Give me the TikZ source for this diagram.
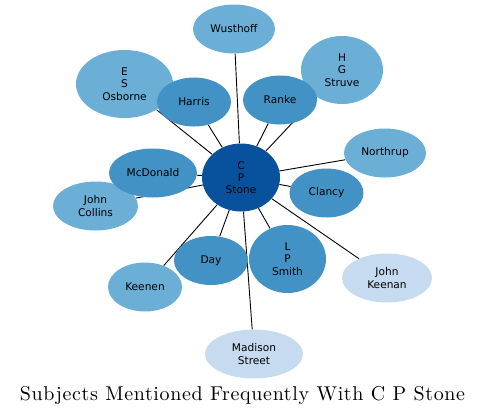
\documentclass[tikz,border=0pt]{standalone}
\usepackage{fontspec}
\setsansfont{DejaVu Sans}
\newfontfamily\titlefont[LetterSpace=3.3]{lmroman10-regular.otf}
\usetikzlibrary{backgrounds,shapes.geometric}
\definecolor{hub}{HTML}{08519C}
\definecolor{midblue}{HTML}{4292C6}
\definecolor{lightblue}{HTML}{6BAED6}
\definecolor{paleblue}{HTML}{C6DBEF}
\tikzset{subj/.style={ellipse, fill=#1, inner sep=0pt, minimum height=49pt, align=center,
    font=\sffamily\fontsize{10.6}{12.3}\selectfont},
  link/.style={draw=black, line width=0.9pt}}

\begin{document}
\begin{tikzpicture}[x=1pt, y=-1pt]
  \useasboundingbox (0,0) rectangle (485,415);
  \node[subj=lightblue, minimum width=82pt] (wust) at (234,29) {Wusthoff};
  \node[subj=lightblue, minimum width=97pt, minimum height=68pt] (osb) at (124.5,84) {E\\S\\Osborne};
  \node[subj=midblue, minimum width=74pt] (harris) at (194,102) {Harris};
  \node[subj=lightblue, minimum width=82pt, minimum height=68pt] (struve) at (342,70) {H\\G\\Struve};
  \node[subj=midblue, minimum width=74pt] (ranke) at (280,100) {Ranke};
  \node[subj=lightblue, minimum width=82pt] (north) at (385,153) {Northrup};
  \node[subj=hub, minimum width=78pt, minimum height=68pt] (stone) at (241,177.5) {C\\P\\Stone};
  \node[subj=lightblue, minimum width=85pt] (collins) at (95.5,206) {John\\Collins};
  \node[subj=midblue, minimum width=88pt] (mcd) at (153,173) {McDonald};
  \node[subj=midblue, minimum width=74pt] (clancy) at (326.5,193) {Clancy};
  \node[subj=midblue, minimum width=74pt] (day) at (211,260.5) {Day};
  \node[subj=midblue, minimum width=77pt, minimum height=68pt] (smith) at (287.5,259) {L\\P\\Smith};
  \node[subj=paleblue, minimum width=90pt] (keenan) at (387,278) {John\\Keenan};
  \node[subj=lightblue, minimum width=74pt] (keenen) at (145,287) {Keenen};
  \node[subj=paleblue, minimum width=98pt] (madison) at (254,354) {Madison\\Street};
  \node[anchor=base, font=\titlefont\fontsize{20}{24}\selectfont] (title) at (242.5,400)
    {Subjects Mentioned Frequently With C P Stone};
  \begin{scope}[on background layer]
    \foreach \n in {wust,osb,harris,struve,ranke,north,collins,mcd,clancy,day,smith,keenan,keenen,madison}
      \draw[link] (stone) -- (\n);
  \end{scope}
\end{tikzpicture}
\end{document}
